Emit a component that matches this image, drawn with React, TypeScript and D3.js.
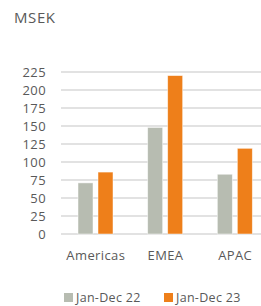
import React from 'react';
import * as d3 from 'd3';

const regions = ['Americas', 'EMEA', 'APAC'];
const series = ['Jan-Dec 22', 'Jan-Dec 23'];
const values22 = [71, 148, 83];
const values23 = [86, 220, 119];
const yTicks = [0, 25, 50, 75, 100, 125, 150, 175, 200, 225];
const colors = ['#b7bcb1', '#ee7f1a'];

const W = 261;
const H = 306;
const font = '"Open Sans", sans-serif';
const textColor = '#595959';

const App = () => {
  const x = d3.scaleBand().domain(regions).range([61, 270]);
  const y = d3.scaleLinear().domain([0, 225]).range([234, 72]);
  const inner = d3.scaleBand().domain(series).range([17, 52]).paddingInner(0.25);
  const data = [values22, values23];

  return (
    <svg width={W} height={H} style={{ position: 'absolute', left: 0, top: 0 }} fontFamily={font}>
      <text x={14} y={23} fontSize={15} letterSpacing={0.6} fill={textColor}>MSEK</text>

      {yTicks.map(t => (
        <g key={t}>
          <line x1={61} x2={W} y1={y(t)} y2={y(t)} stroke="#d9d9d9" strokeWidth={1.5} />
          <text x={46} y={y(t)} dy="0.35em" textAnchor="end" fontSize={13} letterSpacing={0.4} fill={textColor}>{t}</text>
        </g>
      ))}

      {series.map((s, si) =>
        regions.map((r, ri) => (
          <rect
            key={s + r}
            x={(x(r) ?? 0) + (inner(s) ?? 0)}
            y={y(data[si][ri])}
            width={inner.bandwidth()}
            height={y(0) - y(data[si][ri])}
            fill={colors[si]}
            stroke="#fff"
            strokeOpacity={0.6}
            strokeWidth={0.8}
          />
        ))
      )}

      {regions.map(r => (
        <text key={r} x={(x(r) ?? 0) + x.bandwidth() / 2} y={255} dy="0.35em" textAnchor="middle" fontSize={13} letterSpacing={0.4} fill={textColor}>{r}</text>
      ))}

      {series.map((s, i) => (
        <g key={s} transform={`translate(${64 + i * 100},293)`}>
          <rect x={0} y={0} width={9} height={9} fill={colors[i]} />
          <text x={12} y={4.5} dy="0.35em" fontSize={12.5} letterSpacing={0.3} fill={textColor}>{s}</text>
        </g>
      ))}
    </svg>
  );
};

export default App;
